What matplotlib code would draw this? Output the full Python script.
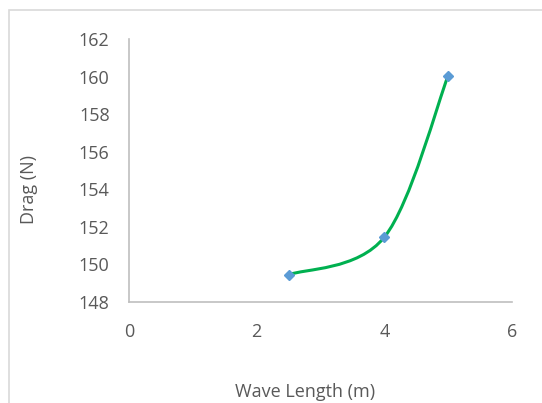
import matplotlib.pyplot as plt
from matplotlib.path import Path
from matplotlib.patches import PathPatch, Rectangle

plt.rcParams["font.family"] = ["Open Sans", "DejaVu Sans"]

# data
wave_length = [2.5, 4.0, 5.0]
drag = [149.45, 151.45, 160.05]

x_ticks = [0, 2, 4, 6]
y_ticks = [148, 150, 152, 154, 156, 158, 160, 162]

LINE_COLOR = "#00b050"
MARKER_COLOR = "#5b9bd5"
AXIS_COLOR = "#bfbfbf"
TEXT_COLOR = "#595959"


def smooth_path(xs, ys):
    # Excel-like smoothed line: cubic bezier through every point
    pts = list(zip(xs, ys))
    n = len(pts)
    verts = [pts[0]]
    codes = [Path.MOVETO]
    for i in range(n - 1):
        p0 = pts[i - 1] if i > 0 else pts[i]
        p1 = pts[i]
        p2 = pts[i + 1]
        p3 = pts[i + 2] if i + 2 < n else pts[i + 1]
        c1 = (p1[0] + (p2[0] - p0[0]) / 6, p1[1] + (p2[1] - p0[1]) / 6)
        c2 = (p2[0] - (p3[0] - p1[0]) / 6, p2[1] - (p3[1] - p1[1]) / 6)
        verts += [c1, c2, p2]
        codes += [Path.CURVE4] * 3
    return Path(verts, codes)


fig = plt.figure(figsize=(5.42, 4.03), dpi=100)
ax = fig.add_axes([0.238, 0.2506, 0.7066, 0.6526])

# chart area frame, cut off at right and bottom
fig.patches.append(Rectangle((9 / 542, -0.1), 1.2, 1 - 10 / 403 + 0.1,
                             transform=fig.transFigure, fill=False,
                             edgecolor="#d9d9d9", linewidth=1.2))

ax.add_patch(PathPatch(smooth_path(wave_length, drag), facecolor="none",
                       edgecolor=LINE_COLOR, linewidth=2.2, zorder=2))
ax.plot(wave_length, drag, linestyle="none", marker="D", markersize=5.5,
        color=MARKER_COLOR, zorder=3)

ax.set_xlim(0, 6)
ax.set_ylim(148, 162)
ax.set_xticks(x_ticks)
ax.set_yticks(y_ticks)
ax.tick_params(length=0, labelsize=13, labelcolor=TEXT_COLOR)
ax.tick_params(axis="x", pad=15)
ax.tick_params(axis="y", pad=14)

for side in ["top", "right"]:
    ax.spines[side].set_visible(False)
for side in ["left", "bottom"]:
    ax.spines[side].set_color(AXIS_COLOR)
    ax.spines[side].set_linewidth(1.2)

fig.text(305 / 542, 1 - 392 / 403, "Wave Length (m)", ha="center", va="center",
         fontsize=13, color=TEXT_COLOR)
fig.text(29 / 542, 1 - 190 / 403, "Drag (N)", ha="center", va="center",
         rotation=90, fontsize=13, color=TEXT_COLOR)

fig.savefig("out.png", dpi=100)
